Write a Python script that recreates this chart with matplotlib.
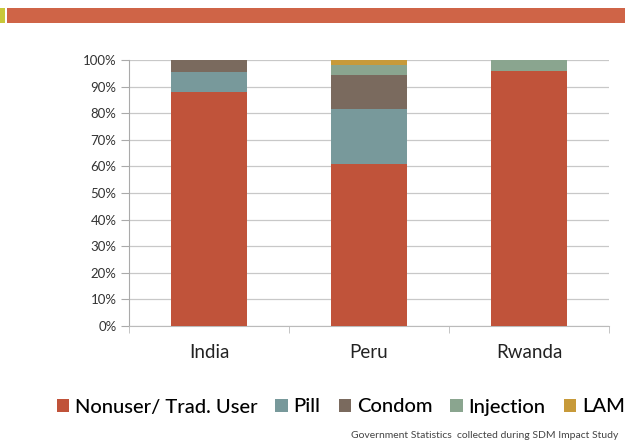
import matplotlib
matplotlib.use("Agg")
import matplotlib.pyplot as plt
from matplotlib.patches import Rectangle
import numpy as np

countries = ["India", "Peru", "Rwanda"]
series_names = ["Nonuser/ Trad. User", "Pill", "Condom", "Injection", "LAM"]
nonuser = [0.88, 0.61, 0.958]
pill = [0.076, 0.205, 0.0]
condom = [0.044, 0.128, 0.0]
injection = [0.0, 0.04, 0.042]
lam = [0.0, 0.017, 0.0]
colors = ["#c0533a", "#78999b", "#7a6a5e", "#8aa58f", "#c79a3a"]
yticks = [0, 0.1, 0.2, 0.3, 0.4, 0.5, 0.6, 0.7, 0.8, 0.9, 1.0]
ytick_labels = ["0%", "10%", "20%", "30%", "40%", "50%", "60%", "70%", "80%", "90%", "100%"]

plt.rcParams['font.family'] = ['Lato', 'DejaVu Sans']

fig = plt.figure(figsize=(6.25, 4.42), dpi=100)
fig.patch.set_facecolor("white")

# header bar
fig.patches.append(Rectangle((7/625, 1-23/442), 618/625, 15/442, transform=fig.transFigure,
                             facecolor="#cf6447", edgecolor="none"))
fig.patches.append(Rectangle((0, 1-23/442), 5/625, 15/442, transform=fig.transFigure,
                             facecolor="#c8c83a", edgecolor="none"))

ax = fig.add_axes([129/625, 1-326/442, 480/625, 266/442])
x = np.arange(len(countries))
bottom = np.zeros(len(countries))
data = [nonuser, pill, condom, injection, lam]
for vals, name, c in zip(data, series_names, colors):
    ax.bar(x, vals, width=0.47, bottom=bottom, color=c, label=name, zorder=3)
    bottom += np.array(vals)

ax.set_xlim(-0.5, 2.5)
ax.set_ylim(0, 1.0)
ax.set_yticks(yticks)
ax.set_yticklabels(ytick_labels, fontsize=9.5, color="#333333")
ax.set_xticks(x)
ax.set_xticklabels(countries, fontsize=13.5, color="#222222")
ax.tick_params(axis="x", length=0, pad=13)
ax.tick_params(axis="y", length=6, color="#aaaaaa", pad=3)
ax.set_xticks([-0.5, 0.5, 1.5, 2.5], minor=True)
ax.tick_params(axis="x", which="minor", length=5, color="#bbbbbb")
ax.yaxis.grid(True, color="#c8c8c8", linewidth=0.9, zorder=0)
for s in ["top", "right"]:
    ax.spines[s].set_visible(False)
ax.spines["left"].set_color("#aaaaaa")
ax.spines["bottom"].set_color("#bbbbbb")

handles, labels = ax.get_legend_handles_labels()
fig.legend(handles, labels, loc="center", bbox_to_anchor=(0.545, 1-407/442), ncol=5,
           frameon=False, fontsize=14.5, handlelength=0.6, handleheight=0.6,
           handletextpad=0.3, columnspacing=0.9, borderaxespad=0,
           prop={"size": 14.5, "weight": "medium"})

fig.text(618/625, 1-435/442, "Government Statistics  collected during SDM Impact Study",
         ha="right", va="center", fontsize=7.5, color="#444444")

fig.savefig("out.png", dpi=100)
